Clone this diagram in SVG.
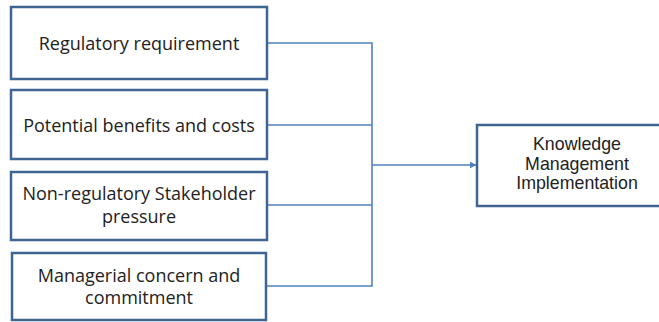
<svg xmlns="http://www.w3.org/2000/svg" width="659" height="322" viewBox="0 0 659 322">
<defs>
<style>
.box{fill:#fff;stroke:#3f6593;stroke-width:2.5}
.lbl{font-family:"Open Sans",Lato,sans-serif;font-size:18px;fill:#222;text-anchor:middle}
.km{font-family:"Liberation Sans",Arial,sans-serif;font-size:17.8px;fill:#222;text-anchor:middle}
.conn{fill:none;stroke:#4f81bd;stroke-width:1.6}
</style>
<marker id="arr" viewBox="0 0 10 10" refX="9" refY="5" markerWidth="7" markerHeight="7" orient="auto" markerUnits="userSpaceOnUse">
<path d="M0,0 L10,5 L0,10 Z" fill="#4f81bd"/>
</marker>
</defs>
<rect width="659" height="322" fill="#fff"/>
<g id="connectors">
<path class="conn" d="M267,43 H372 V286 H267"/>
<path class="conn" d="M267,125 H372"/>
<path class="conn" d="M267,205 H372"/>
<path class="conn" d="M372,165 H476" marker-end="url(#arr)"/>
</g>
<g id="n1">
<rect class="box" x="11" y="7" width="256" height="72"/>
<text class="lbl" x="139" y="50">Regulatory requirement</text>
</g>
<g id="n2">
<rect class="box" x="11" y="90" width="256" height="69"/>
<text class="lbl" x="139" y="132">Potential benefits and costs</text>
</g>
<g id="n3">
<rect class="box" x="11" y="172" width="256" height="68"/>
<text class="lbl" x="139" y="200">Non-regulatory Stakeholder</text>
<text class="lbl" x="139" y="223">pressure</text>
</g>
<g id="n4">
<rect class="box" x="12" y="253" width="254" height="67"/>
<text class="lbl" x="139" y="282">Managerial concern and</text>
<text class="lbl" x="139" y="304">commitment</text>
</g>
<g id="km">
<rect class="box" x="477" y="125" width="190" height="81"/>
<text class="km" x="577" y="150">Knowledge</text>
<text class="km" x="577" y="170">Management</text>
<text class="km" x="577" y="189">Implementation</text>
</g>
</svg>
